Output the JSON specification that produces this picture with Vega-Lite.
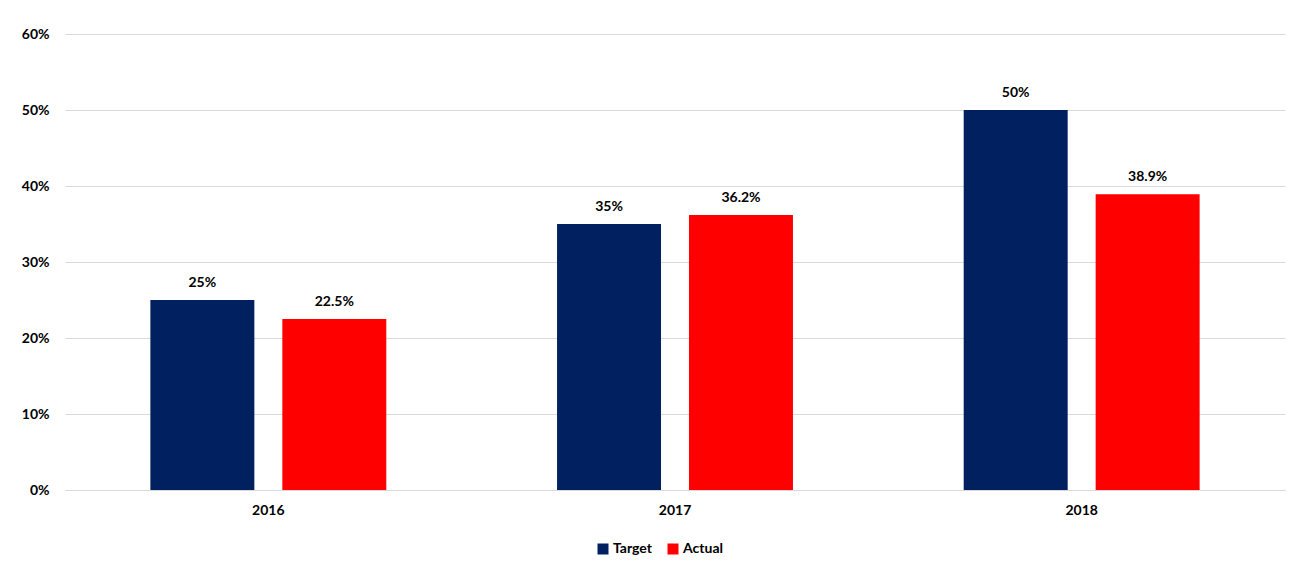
{
  "$schema": "https://vega.github.io/schema/vega-lite/v6.json",
  "autosize": {"type": "none"},
  "width": 1220,
  "height": 456,
  "padding": {"left": 65, "top": 34, "right": 8, "bottom": 76},
  "background": "white",
  "config": {
    "view": {"stroke": null},
    "font": "Lato",
    "axis": {"labelFont": "Lato", "labelFontWeight": "bold", "labelFontSize": 14, "labelColor": "#000000"},
    "legend": {"labelFont": "Lato", "labelFontWeight": "bold", "labelFontSize": 14, "labelColor": "#000000"}
  },
  "data": {
    "values": [
      {"year": "2016", "series": "Target", "value": 0.25},
      {"year": "2016", "series": "Actual", "value": 0.225},
      {"year": "2017", "series": "Target", "value": 0.35},
      {"year": "2017", "series": "Actual", "value": 0.362},
      {"year": "2018", "series": "Target", "value": 0.50},
      {"year": "2018", "series": "Actual", "value": 0.389}
    ]
  },
  "encoding": {
    "x": {
      "field": "year", "type": "nominal",
      "scale": {"paddingInner": 0, "paddingOuter": 0},
      "axis": {"title": null, "labelAngle": 0, "ticks": false, "labelPadding": 13, "domainColor": "#d9d9d9", "grid": false}
    },
    "xOffset": {
      "field": "series", "type": "nominal",
      "sort": ["Target", "Actual"],
      "scale": {"paddingInner": 0.212, "paddingOuter": 0.647}
    },
    "y": {
      "field": "value", "type": "quantitative",
      "scale": {"domain": [0, 0.6], "nice": false},
      "axis": {"title": null, "format": ".0%", "values": [0, 0.1, 0.2, 0.3, 0.4, 0.5, 0.6], "labelOverlap": false, "ticks": false, "domain": false, "labelPadding": 16, "gridColor": "#d9d9d9"}
    }
  },
  "layer": [
    {
      "mark": {"type": "bar"},
      "encoding": {
        "color": {
          "field": "series", "type": "nominal",
          "sort": ["Target", "Actual"],
          "scale": {"domain": ["Target", "Actual"], "range": ["#002060", "#FF0000"]},
          "legend": {"title": null, "orient": "none", "legendX": 531, "legendY": 508, "direction": "horizontal", "symbolType": "square", "symbolSize": 121, "symbolStrokeWidth": 0, "symbolOpacity": 1, "columnPadding": 14, "labelOffset": 3}
        }
      }
    },
    {
      "mark": {"type": "text", "baseline": "bottom", "dy": -10, "fontWeight": "bold", "fontSize": 14, "font": "Lato", "color": "#000000"},
      "encoding": {
        "text": {"field": "value", "type": "quantitative", "format": ".1~%"}
      }
    }
  ]
}
